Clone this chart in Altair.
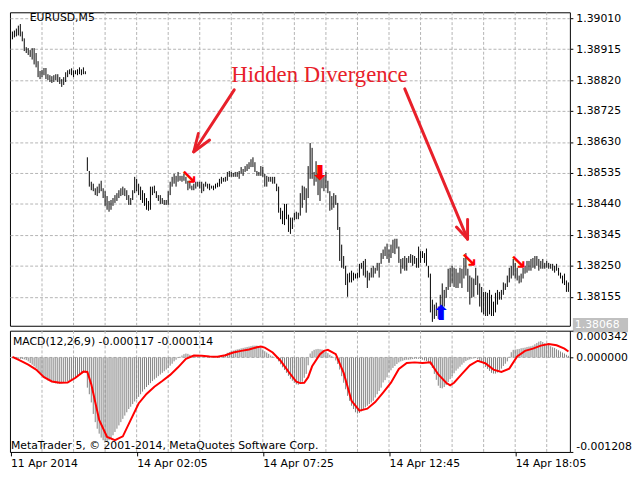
import altair as alt
import pandas as pd

# ---------------- EURUSD M5 bars (prices in points, 1e-5) ----------------
highs = [
    138969, 138972, 138978, 138987, 138992, 138969, 138948, 138921, 138918, 138912,
    138918, 138918, 138903, 138878, 138848, 138851, 138857, 138857, 138838, 138835,
    138832, 138835, 138838, 138838, 138829, 138823, 138829, 138844, 138850, 138853,
    138856, 138850, 138850, 138853, 138859, 138853, 138859, 138847,
    138583, 138541, 138508, 138502, 138488, 138493, 138502, 138511, 138488, 138479,
    138464, 138449, 138452, 138458, 138467, 138473, 138482, 138488, 138493, 138488,
    138482, 138467, 138458, 138482, 138523, 138517, 138502, 138493, 138482, 138473,
    138458, 138449, 138493, 138493, 138496, 138479, 138467, 138467, 138458, 138452,
    138452, 138479,
    138508, 138523, 138532, 138526, 138538, 138526, 138526, 138532, 138523, 138511,
    138511, 138496, 138502, 138508, 138508, 138508, 138508, 138502, 138508, 138502,
    138502, 138496, 138496, 138502, 138505, 138517, 138523, 138520, 138523, 138538,
    138541, 138538, 138535, 138538, 138538, 138541, 138553, 138547, 138556, 138562,
    138568, 138577, 138583, 138568, 138541, 138538, 138556, 138553, 138532, 138526,
    138523, 138523, 138523, 138523, 138502, 138493, 138428, 138419, 138440, 138440,
    138407, 138398, 138398, 138413, 138416, 138413, 138473, 138496, 138493, 138488,
    138556, 138627, 138612, 138538, 138571, 138532, 138523, 138526, 138526, 138538,
    138511, 138479, 138464, 138473, 138467, 138443, 138369, 138315, 138280, 138250,
    138226, 138229, 138235, 138229, 138226, 138229, 138256, 138259, 138265, 138271,
    138235, 138229, 138244, 138250, 138244, 138259, 138259, 138289, 138300, 138309,
    138318, 138300, 138315, 138330, 138333, 138333, 138309, 138271, 138274, 138280,
    138274, 138280, 138286, 138283, 138280, 138274, 138309, 138295, 138295, 138289,
    138303, 138250, 138226, 138146, 138131, 138137, 138125, 138161, 138196, 138176,
    138185, 138241, 138244, 138250, 138244, 138241, 138229, 138244, 138241, 138274,
    138289, 138241, 138220, 138214, 138211, 138244, 138220, 138196, 138185, 138170,
    138170, 138167, 138176, 138161, 138140, 138167, 138176, 138170, 138176, 138199,
    138196, 138220, 138244, 138250, 138271, 138259, 138244, 138220, 138226, 138244,
    138250, 138265, 138265, 138271, 138274, 138280, 138280, 138271, 138265, 138271,
    138259, 138265, 138259, 138256, 138256, 138250, 138256, 138244, 138229, 138220,
    138226, 138205, 138199,
]
lows = [
    138945, 138951, 138954, 138957, 138954, 138939, 138909, 138903, 138897, 138891,
    138883, 138868, 138859, 138829, 138823, 138829, 138835, 138823, 138820, 138814,
    138811, 138814, 138820, 138814, 138808, 138799, 138805, 138814, 138829, 138838,
    138835, 138829, 138838, 138835, 138838, 138835, 138838, 138838,
    138541, 138493, 138482, 138479, 138467, 138464, 138473, 138479, 138458, 138434,
    138422, 138416, 138422, 138434, 138443, 138449, 138458, 138464, 138467, 138464,
    138452, 138437, 138437, 138452, 138473, 138479, 138467, 138452, 138443, 138434,
    138422, 138419, 138422, 138467, 138473, 138458, 138449, 138440, 138440, 138437,
    138437, 138437,
    138467, 138493, 138502, 138493, 138508, 138511, 138508, 138511, 138502, 138482,
    138487, 138482, 138482, 138487, 138493, 138487, 138473, 138479, 138493, 138487,
    138482, 138487, 138482, 138487, 138491, 138493, 138502, 138508, 138508, 138511,
    138523, 138523, 138523, 138523, 138523, 138517, 138532, 138526, 138538, 138541,
    138547, 138553, 138553, 138538, 138526, 138526, 138526, 138523, 138493, 138493,
    138508, 138508, 138502, 138502, 138479, 138413, 138393, 138378, 138375, 138393,
    138354, 138348, 138363, 138390, 138393, 138393, 138404, 138428, 138452, 138413,
    138458, 138517, 138517, 138496, 138508, 138467, 138449, 138488, 138479, 138488,
    138473, 138419, 138422, 138428, 138437, 138360, 138265, 138244, 138241, 138191,
    138155, 138199, 138199, 138205, 138211, 138211, 138214, 138241, 138220, 138214,
    138182, 138205, 138214, 138214, 138226, 138235, 138214, 138256, 138271, 138280,
    138271, 138259, 138274, 138289, 138286, 138303, 138259, 138226, 138241, 138235,
    138235, 138259, 138259, 138250, 138256, 138244, 138244, 138259, 138274, 138259,
    138250, 138214, 138107, 138078, 138087, 138096, 138087, 138101, 138122, 138125,
    138152, 138176, 138185, 138196, 138185, 138182, 138182, 138196, 138182, 138211,
    138220, 138170, 138131, 138152, 138155, 138191, 138161, 138125, 138107, 138101,
    138096, 138096, 138101, 138096, 138096, 138107, 138131, 138146, 138146, 138161,
    138176, 138185, 138199, 138211, 138220, 138211, 138205, 138196, 138199, 138211,
    138226, 138229, 138235, 138235, 138244, 138241, 138250, 138235, 138241, 138241,
    138241, 138244, 138241, 138241, 138235, 138229, 138235, 138220, 138211, 138196,
    138191, 138170, 138170,
]

# ---------------- MACD(12,26,9): main line histogram (1e-6 units) ----------------
macd = [
    -10, -12, -14, -16, -18, -20, -25, -34, -50, -71,
    -92, -113, -134, -168, -197, -227, -252, -273, -294, -302,
    -315, -323, -332, -336, -336, -332, -323, -311, -302, -290,
    -281, -265, -252, -235, -218, -206, -197, -197, -386, -470,
    -575, -722, -827, -911, -974, -1025, -1058, -1067, -1071, -1058,
    -1037, -995, -953, -911, -869, -827, -785, -743, -701, -659,
    -630, -596, -563, -533, -504, -470, -437, -407, -378, -353,
    -328, -302, -281, -260, -239, -218, -197, -176, -155, -134,
    -105, -80, -50, -29, -8, 8, 25, 42, 50, 46,
    34, 21, 13, 8, 8, 5, 3, 2, 2, 3,
    5, 6, 8, 10, 13, 17, 23, 31, 44, 59,
    69, 78, 88, 97, 103, 109, 116, 122, 128, 134,
    139, 145, 151, 151, 151, 143, 126, 101, 80, 63,
    46, 25, 13, 4, -13, -50, -88, -126, -160, -197,
    -235, -273, -298, -323, -344, -349, -336, -311, -260, -210,
    -100, 50, 80, 97, 105, 109, 105, 101, 84, 67,
    55, 34, 17, -8, -38, -84, -155, -239, -323, -407,
    -491, -554, -617, -659, -701, -718, -710, -689, -659, -638,
    -617, -596, -575, -554, -512, -470, -428, -386, -320, -290,
    -255, -189, -164, -134, -109, -84, -63, -50, -42, -34,
    -29, -29, -25, -21, -17, -17, -17, -21, -29, -38,
    -46, -67, -92, -134, -210, -286, -361, -391, -395, -378,
    -353, -315, -277, -239, -202, -168, -143, -118, -92, -67,
    -46, -34, -25, -17, -13, -8, -21, -42, -59, -92,
    -122, -147, -172, -197, -206, -206, -193, -168, -143, -109,
    -80, -50, 8, 67, 97, 101, 105, 109, 118, 122,
    126, 134, 139, 143, 151, 168, 185, 202, 210, 197,
    181, 172, 160, 143, 130, 122, 105, 92, 76, 63,
    50, 34, 21,
]

# signal line (1e-6 units) read at these bars
sig_bar = [0, 4, 8, 12, 16, 20, 24, 28, 32, 36,
           38, 40, 44, 48, 52, 56, 60, 64, 68, 72,
           76, 80, 84, 88, 92, 96, 100, 104, 108, 112,
           116, 120, 124, 126, 128, 132, 136, 140, 144, 146,
           148, 150, 152, 156, 158, 160, 164, 168, 172, 176,
           180, 184, 188, 192, 196, 200, 204, 208, 212, 216,
           220, 222, 224, 228, 232, 236, 240, 244, 248, 252,
           256, 260, 264, 268, 272, 276, 280, 282]
sig_val = [8, -42, -92, -155, -252, -307, -323, -319, -260, -181,
           -185, -344, -798, -1016, -1058, -1008, -798, -588, -466, -374,
           -302, -223, -126, -17, 25, 21, 13, 8, 29, 63,
           84, 101, 130, 139, 126, 63, -42, -181, -311, -328,
           -323, -252, -113, 42, 84, 97, 42, -197, -554, -680,
           -655, -571, -449, -323, -147, -71, -63, -71, -63, -218,
           -323, -357, -323, -210, -101, -42, -76, -155, -185, -143,
           13, 84, 113, 151, 172, 155, 113, 76]

# axes / ticks
price_ticks = [138155, 138250, 138345, 138440, 138535, 138630, 138725, 138820, 138915, 139010]
grid_bars = [15, 31, 47, 63, 79, 95, 111, 127, 143, 159, 175, 191, 207, 223, 239, 255, 271]
time_tick_bars = [-1, 63, 127, 191, 255]
time_tick_labels = ["11 Apr 2014", "14 Apr 02:05", "14 Apr 07:25", "14 Apr 12:45", "14 Apr 18:05"]
macd_ticks = [-1208, 0, 342]
macd_tick_labels = ["-0.001208", "0.000000", "0.000342"]
last_price = 138068

# signal arrows on the price chart
mark_bar = [89.5, 156, 231.5, 256.5, 217.5]
mark_price = [138520, 138532, 138265, 138259, 138101]
mark_glyph = ["↘", "⬇", "↘", "↘", "⬆"]
mark_color = ["#ff0000", "#ff0000", "#ff0000", "#ff0000", "#0000ff"]

# hand-drawn annotation arrows (bar, price) -> (bar, price)
arr_b1 = [112.5, 92, 92, 199, 230.85, 230.85]
arr_p1 = [138790, 138600, 138600, 138793, 138332, 138332]
arr_b2 = [92, 94.3, 100, 230.85, 230.85, 225.2]
arr_p2 = [138600, 138656, 138636, 138332, 138392, 138369]
hd_text = "Hidden Divergence"
hd_bar = 111
hd_price = 138814

# ---------------- build ----------------
RED = "#e8202a"
GRID = "#b4b4b4"
W, H1, H2 = 568, 318, 123

df = pd.DataFrame({
    "bar": list(range(len(highs))),
    "high": [h / 1e5 for h in highs],
    "low": [v / 1e5 for v in lows],
    "macd": [m / 1e6 for m in macd],
})
df["zero"] = 0.0
sig_df = pd.DataFrame({"bar": sig_bar, "signal": [s / 1e6 for s in sig_val]})
grid_df = pd.DataFrame({"bar": grid_bars})
marks_df = pd.DataFrame({"bar": mark_bar, "price": [p / 1e5 for p in mark_price],
                         "g": mark_glyph, "c": mark_color})
arr_df = pd.DataFrame({"b1": arr_b1, "p1": [p / 1e5 for p in arr_p1],
                       "b2": arr_b2, "p2": [p / 1e5 for p in arr_p2]})
hd_df = pd.DataFrame({"bar": [hd_bar], "price": [hd_price / 1e5], "t": [hd_text]})
lp_df = pd.DataFrame({"price": [last_price / 1e5], "t": [f"{last_price / 1e5:.5f}"]})

x_scale = alt.Scale(domain=[-1.25, 282.75], nice=False, zero=False)
p_scale = alt.Scale(domain=[1.38066, 1.39028], nice=False, zero=False)
m_scale = alt.Scale(domain=[-0.001208, 0.000342], nice=False, zero=False)

time_expr = " : ".join(f"datum.value == {b} ? '{l}'" for b, l in zip(time_tick_bars, time_tick_labels)) + " : ''"
macd_expr = " : ".join(f"abs(datum.value - ({v / 1e6})) < 1e-9 ? '{l}'" for v, l in zip(macd_ticks, macd_tick_labels)) + " : ''"

# identical axis specs in every layer so Vega-Lite merges them
AX_TOP_X = alt.Axis(labels=False, ticks=False, grid=False, domain=False, title=None)
AX_TOP_Y = alt.Axis(orient="right", values=[p / 1e5 for p in price_ticks], format=".5f",
                    grid=True, gridDash=[3, 2], gridColor=GRID, tickSize=3, labelPadding=3,
                    domain=False, title=None, labelOverlap=False)
AX_BOT_X = alt.Axis(values=time_tick_bars, labelExpr=time_expr, grid=False, tickSize=4,
                    labelAlign="left", labelBaseline="top", labelPadding=2, labelFlush=False,
                    labelOverlap=False, domain=False, title=None)
AX_BOT_Y = alt.Axis(orient="right", values=[v / 1e6 for v in macd_ticks], labelExpr=macd_expr,
                    grid=False, tickSize=3, labelPadding=3, labelFlush=True, domain=False,
                    title=None, labelOverlap=False)

TX = lambda f: alt.X(f, scale=x_scale, axis=AX_TOP_X)
TY = lambda f: alt.Y(f, scale=p_scale, axis=AX_TOP_Y)
BX = lambda f: alt.X(f, scale=x_scale, axis=AX_BOT_X)
BY = lambda f: alt.Y(f, scale=m_scale, axis=AX_BOT_Y)

# ----- top panel -----
vgrid_top = alt.Chart(grid_df).mark_rule(color=GRID, strokeDash=[3, 2], strokeWidth=1).encode(x=TX("bar:Q"))

price_bars = alt.Chart(df).mark_rule(color="black", strokeWidth=1).encode(
    x=TX("bar:Q"), y=TY("low:Q"), y2="high:Q")

arrows = alt.Chart(arr_df).mark_rule(color=RED, strokeWidth=3, strokeCap="round").encode(
    x=TX("b1:Q"), y=TY("p1:Q"), x2="b2:Q", y2="p2:Q")

hd = alt.Chart(hd_df).mark_text(font="Liberation Serif", fontSize=23, color=RED,
                                align="left", baseline="alphabetic").encode(
    x=TX("bar:Q"), y=TY("price:Q"), text="t:N")

sigmarks = alt.Chart(marks_df).mark_text(font="DejaVu Sans", fontSize=21, fontWeight="bold",
                                         align="center", baseline="middle").encode(
    x=TX("bar:Q"), y=TY("price:Q"), text="g:N", color=alt.Color("c:N", scale=None))

sym_text = alt.Chart(pd.DataFrame({"t": ["EURUSD,M5"]})).mark_text(
    font="DejaVu Sans", fontSize=11, color="black", align="left", baseline="alphabetic").encode(
    x=alt.value(20), y=alt.value(9), text="t:N")

lp_box = alt.Chart(lp_df).mark_point(
    shape="M-1,-0.26L1,-0.26L1,0.26L-1,0.26Z", filled=True, size=3136,
    color="#c0c0c0", opacity=1, strokeWidth=0).encode(x=alt.value(W + 31), y=TY("price:Q"))
lp_text = alt.Chart(lp_df).mark_text(font="DejaVu Sans", fontSize=11, color="white",
                                     align="left", baseline="middle").encode(
    x=alt.value(W + 5), y=TY("price:Q"), text="t:N")

top = alt.layer(vgrid_top, price_bars, arrows, hd, sigmarks, sym_text, lp_box, lp_text).properties(
    width=W, height=H1)

# ----- bottom panel -----
vgrid_bot = alt.Chart(grid_df).mark_rule(color=GRID, strokeDash=[3, 2], strokeWidth=1).encode(x=BX("bar:Q"))
zero_line = alt.Chart(pd.DataFrame({"v": [0.0]})).mark_rule(color=GRID, strokeDash=[3, 2]).encode(y=BY("v:Q"))

hist = alt.Chart(df).mark_rule(color="#808080", strokeWidth=1).encode(
    x=BX("bar:Q"), y=BY("zero:Q"), y2="macd:Q")

signal = alt.Chart(sig_df).mark_line(color="#ff0000", strokeWidth=2).encode(
    x=BX("bar:Q"), y=BY("signal:Q"))

macd_label = alt.Chart(pd.DataFrame({"t": ["MACD(12,26,9) -0.000117 -0.000114"]})).mark_text(
    font="DejaVu Sans", fontSize=11, color="black", align="left", baseline="alphabetic").encode(
    x=alt.value(3), y=alt.value(15), text="t:N")
copy_label = alt.Chart(pd.DataFrame({"t": ["MetaTrader 5, © 2001-2014, MetaQuotes Software Corp."]})).mark_text(
    font="DejaVu Sans", fontSize=11, color="black", align="left", baseline="alphabetic").encode(
    x=alt.value(1), y=alt.value(120), text="t:N")

bottom = alt.layer(vgrid_bot, zero_line, hist, signal, macd_label, copy_label).properties(
    width=W, height=H2)

chart = alt.vconcat(top, bottom, spacing=5, bounds="flush").properties(
    padding=0, background="white"
).configure_view(stroke="black", strokeWidth=1).configure_axis(
    labelFont="DejaVu Sans", labelFontSize=11, labelColor="black", tickColor="black"
)

chart.save("out.html", embed_options={"renderer": "svg", "actions": False})
